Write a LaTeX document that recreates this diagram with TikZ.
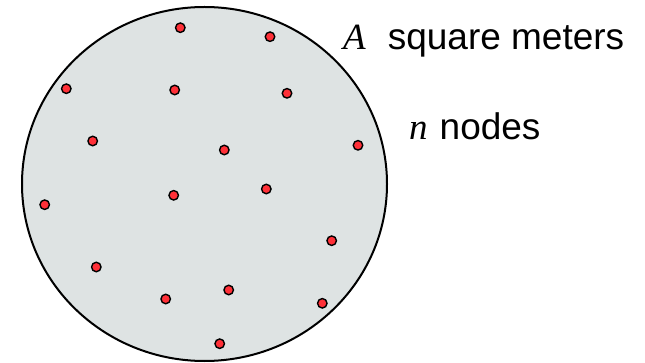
\documentclass[tikz,border=0pt]{standalone}
\usepackage{fontspec}
\setmainfont{Liberation Serif}
\setsansfont{Liberation Sans}
\usepackage{tikz}
\usetikzlibrary{positioning}
\definecolor{areaGrey}{HTML}{DEE3E3}
\definecolor{dotRed}{HTML}{FF3038}

\begin{document}
\begin{tikzpicture}[x=1pt, y=-1pt,
  dot/.style={circle, draw=black, line width=1.4pt, fill=dotRed,
              minimum size=9.5pt, inner sep=0pt},
  caption/.style={font=\fontsize{37}{40}\selectfont\sffamily, inner sep=0pt, anchor=base west}]

\useasboundingbox (0,0) rectangle (645,363);

% the region
\draw[line width=2pt, fill=areaGrey] (204.5,184) ellipse [x radius=182.5, y radius=177];

% the scattered nodes
\foreach \px/\py [count=\i] in {180.3/27.7, 270/36.7, 66.3/88.7, 174.7/90, 287/93.3,
    92.7/141, 224.3/150, 358/145.3, 173.7/195.3, 266.3/189, 44.7/204.7,
    331.7/240.7, 96.3/267, 228.7/290, 165.7/299, 322.3/303.3, 219.7/343.7}
  \node[dot] (p\i) at (\px,\py) {};

% texts
\node[caption] (area) at (343,50) {{\rmfamily\itshape A}\hspace{22pt}square meters};
\node[caption] (count) at (409,140) {{\rmfamily\itshape n}\hspace{12pt}nodes};
\end{tikzpicture}
\end{document}
